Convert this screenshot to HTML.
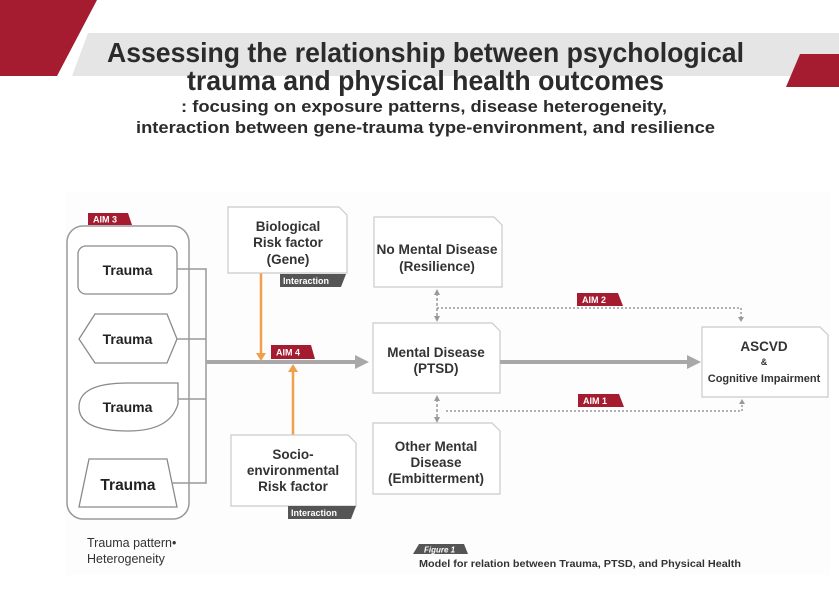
<!DOCTYPE html>
<html><head><meta charset="utf-8"><style>html,body{margin:0;padding:0;background:#fff;}svg{display:block}</style></head>
<body>
<svg width="839" height="593" viewBox="0 0 839 593" xmlns="http://www.w3.org/2000/svg" font-family="'Liberation Sans', Arial, sans-serif">
<rect width="839" height="593" fill="#fff"/>
<!-- header -->
<polygon points="88,33 839,33 839,76 72,76" fill="#e5e5e5"/>
<polygon points="0,0 97,0 57,76 0,76" fill="#a51c30"/>
<polygon points="800,54 839,54 839,87 786,87" fill="#a51c30"/>
<text x="107" y="62" font-size="27.5" font-weight="bold" fill="#2b2b2b" textLength="637" lengthAdjust="spacingAndGlyphs">Assessing the relationship between psychological</text>
<text x="187" y="90" font-size="27.5" font-weight="bold" fill="#2b2b2b" textLength="477" lengthAdjust="spacingAndGlyphs">trauma and physical health outcomes</text>
<text x="181" y="112" font-size="16.5" font-weight="bold" fill="#2b2b2b" textLength="486" lengthAdjust="spacingAndGlyphs">: focusing on exposure patterns, disease heterogeneity,</text>
<text x="136" y="133" font-size="16.5" font-weight="bold" fill="#2b2b2b" textLength="579" lengthAdjust="spacingAndGlyphs">interaction between gene-trauma type-environment, and resilience</text>

<!-- diagram background -->
<rect x="65" y="192" width="765" height="383" fill="#fdfdfd"/>

<!-- AIM3 container -->
<rect x="67" y="226" width="122" height="293" rx="16" fill="#fff" stroke="#9a9a9a" stroke-width="1.5"/>
<polygon points="88,213 128,213 132,225 88,225" fill="#a51c30"/>
<text x="93" y="222.5" font-size="9" font-weight="bold" fill="#fff">AIM 3</text>

<!-- trauma shapes -->
<rect x="78" y="246" width="99" height="48" rx="8" fill="#fff" stroke="#8a8a8a" stroke-width="1.3"/>
<text x="127.5" y="275" text-anchor="middle" font-size="14" font-weight="bold" fill="#222">Trauma</text>
<polygon points="79,339 95,314 167,314 177,339 167,363 95,363" fill="#fff" stroke="#8a8a8a" stroke-width="1.3"/>
<text x="127.5" y="344" text-anchor="middle" font-size="14" font-weight="bold" fill="#222">Trauma</text>
<path d="M128,383 L178,383 L178,404 Q170,431 128,431 Q79,431 79,407 Q79,383 128,383 Z" fill="#fff" stroke="#8a8a8a" stroke-width="1.3"/>
<text x="127.5" y="412" text-anchor="middle" font-size="14" font-weight="bold" fill="#222">Trauma</text>
<polygon points="89,459 167,459 177,507 79,507" fill="#fff" stroke="#8a8a8a" stroke-width="1.3"/>
<text x="128" y="490" text-anchor="middle" font-size="15.5" font-weight="bold" fill="#222">Trauma</text>

<!-- connectors -->
<g stroke="#9a9a9a" stroke-width="1.5" fill="none">
<line x1="177" y1="269" x2="206" y2="269"/>
<line x1="177" y1="339" x2="206" y2="339"/>
<line x1="178" y1="399" x2="206" y2="399"/>
<line x1="172" y1="483" x2="206" y2="483"/>
<line x1="206" y1="268.3" x2="206" y2="483.7"/>
</g>
<line x1="206" y1="362" x2="357" y2="362" stroke="#a8a8a8" stroke-width="4"/>
<polygon points="355,355 369,362 355,369" fill="#a8a8a8"/>

<!-- orange arrows -->
<line x1="261" y1="273" x2="261" y2="354" stroke="#f0a04b" stroke-width="2.5"/>
<polygon points="256,353 261,361 266,353" fill="#f0a04b"/>
<line x1="293" y1="435" x2="293" y2="371" stroke="#f0a04b" stroke-width="2.5"/>
<polygon points="288,372 293,364 298,372" fill="#f0a04b"/>

<!-- AIM4 -->
<polygon points="271,345 311,345 315,359 271,359" fill="#a51c30"/>
<text x="276" y="355.5" font-size="9" font-weight="bold" fill="#fff">AIM 4</text>

<!-- Biological box -->
<path d="M228,207 H339 L347,215 V273 H228 Z" fill="#fff" stroke="#cacaca" stroke-width="1.2"/>
<text x="288" y="231" text-anchor="middle" font-size="13.5" font-weight="bold" fill="#333">Biological</text>
<text x="288" y="247" text-anchor="middle" font-size="13.5" font-weight="bold" fill="#333">Risk factor</text>
<text x="288" y="264" text-anchor="middle" font-size="13.5" font-weight="bold" fill="#333">(Gene)</text>
<polygon points="280,274 346,274 341,287 280,287" fill="#555"/>
<text x="283" y="284" font-size="9" font-weight="bold" fill="#fff">Interaction</text>

<!-- Socio box -->
<path d="M231,435 H348 L356,443 V506 H231 Z" fill="#fff" stroke="#cacaca" stroke-width="1.2"/>
<text x="293" y="459" text-anchor="middle" font-size="13.5" font-weight="bold" fill="#333">Socio-</text>
<text x="293" y="475" text-anchor="middle" font-size="13.5" font-weight="bold" fill="#333">environmental</text>
<text x="293" y="491" text-anchor="middle" font-size="13.5" font-weight="bold" fill="#333">Risk factor</text>
<polygon points="288,506 356,506 351,519 288,519" fill="#555"/>
<text x="291" y="516" font-size="9" font-weight="bold" fill="#fff">Interaction</text>

<!-- mental boxes -->
<path d="M374,217 H494 L502,225 V287 H374 Z" fill="#fff" stroke="#cacaca" stroke-width="1.2"/>
<text x="437" y="254" text-anchor="middle" font-size="13.5" font-weight="bold" fill="#333" textLength="121" lengthAdjust="spacingAndGlyphs">No Mental Disease</text>
<text x="437" y="271" text-anchor="middle" font-size="13.5" font-weight="bold" fill="#333">(Resilience)</text>

<path d="M373,323 H492 L500,331 V393 H373 Z" fill="#fff" stroke="#cacaca" stroke-width="1.2"/>
<text x="436" y="357" text-anchor="middle" font-size="13.5" font-weight="bold" fill="#333">Mental Disease</text>
<text x="436" y="373" text-anchor="middle" font-size="13.5" font-weight="bold" fill="#333">(PTSD)</text>

<path d="M373,423 H492 L500,431 V494 H373 Z" fill="#fff" stroke="#cacaca" stroke-width="1.2"/>
<text x="436" y="451" text-anchor="middle" font-size="13.5" font-weight="bold" fill="#333">Other Mental</text>
<text x="436" y="467" text-anchor="middle" font-size="13.5" font-weight="bold" fill="#333">Disease</text>
<text x="436" y="483" text-anchor="middle" font-size="13.5" font-weight="bold" fill="#333">(Embitterment)</text>

<!-- ASCVD box -->
<path d="M702,327 H820 L828,335 V397 H702 Z" fill="#fff" stroke="#cacaca" stroke-width="1.2"/>
<text x="764" y="351" text-anchor="middle" font-size="13.5" font-weight="bold" fill="#333">ASCVD</text>
<text x="764" y="365" text-anchor="middle" font-size="9" font-weight="bold" fill="#333">&amp;</text>
<text x="764" y="382" text-anchor="middle" font-size="11" font-weight="bold" fill="#333">Cognitive Impairment</text>

<!-- main arrow 2 -->
<line x1="500" y1="362" x2="689" y2="362" stroke="#a8a8a8" stroke-width="4"/>
<polygon points="687,355 701,362 687,369" fill="#a8a8a8"/>

<!-- dotted / dashed connectors -->
<g stroke="#9a9a9a" stroke-width="1.5" fill="none">
<line x1="437" y1="308" x2="741" y2="308" stroke-dasharray="2,2"/>
<line x1="741" y1="308" x2="741" y2="318" stroke-dasharray="2,2"/>
<line x1="437" y1="293" x2="437" y2="318" stroke-dasharray="3,2"/>
<line x1="446" y1="411" x2="742" y2="411" stroke-dasharray="2,2"/>
<line x1="742" y1="411" x2="742" y2="403" stroke-dasharray="2,2"/>
<line x1="437" y1="399" x2="437" y2="418" stroke-dasharray="3,2"/>
</g>
<g fill="#9a9a9a">
<polygon points="738,317 741,322 744,317"/>
<polygon points="434,295 437,289 440,295"/>
<polygon points="434,316 437,322 440,316"/>
<polygon points="739,404 742,399 745,404"/>
<polygon points="434,401 437,395 440,401"/>
<polygon points="434,417 437,423 440,417"/>
</g>

<!-- AIM 2 / AIM 1 -->
<polygon points="577,293 618,293 623,306 577,306" fill="#a51c30"/>
<text x="582" y="303" font-size="9" font-weight="bold" fill="#fff">AIM 2</text>
<polygon points="578,394 619,394 624,407 578,407" fill="#a51c30"/>
<text x="583" y="404" font-size="9" font-weight="bold" fill="#fff">AIM 1</text>

<!-- left labels -->
<text x="87" y="547" font-size="12.5" fill="#333">Trauma pattern•</text>
<text x="87" y="563" font-size="12.5" fill="#333">Heterogeneity</text>

<!-- figure caption -->
<polygon points="413,554 419,544 464,544 468,554" fill="#555"/>
<text x="424" y="552.5" font-size="8" font-style="italic" font-weight="bold" fill="#fff">Figure 1</text>
<text x="419" y="567" font-size="10" font-weight="bold" fill="#333" textLength="322" lengthAdjust="spacingAndGlyphs">Model for relation between Trauma, PTSD, and Physical Health</text>
</svg>
</body></html>
